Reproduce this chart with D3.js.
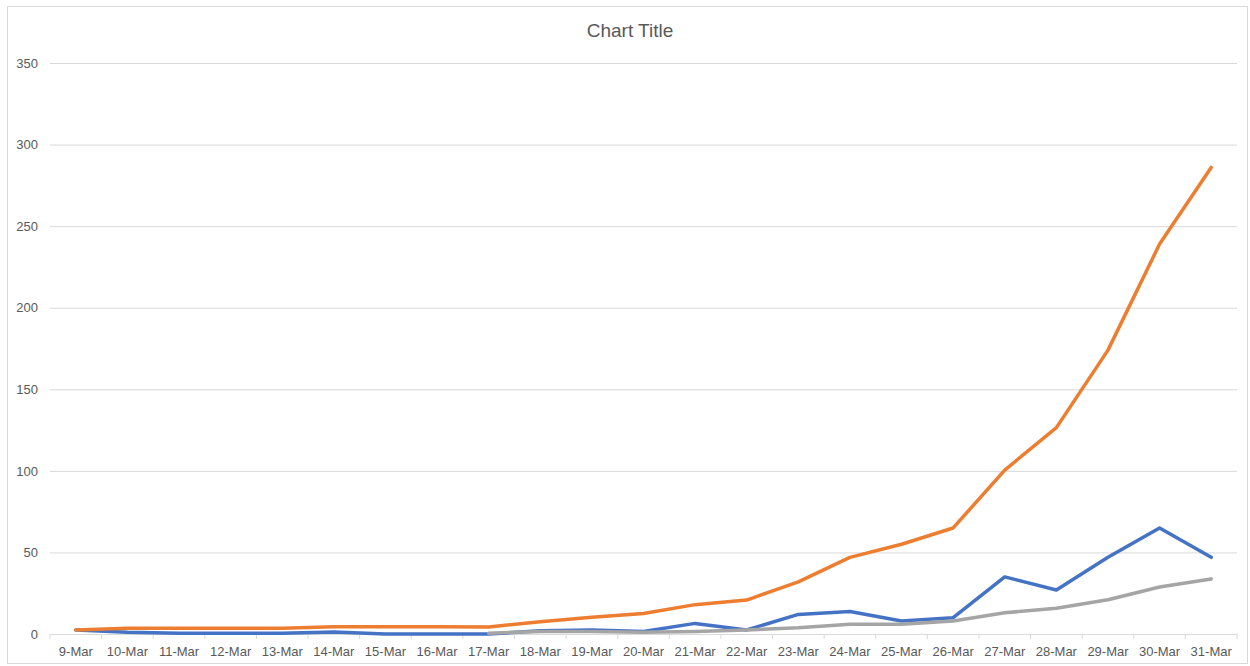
<!DOCTYPE html>
<html><head><meta charset="utf-8">
<script src="https://cdn.jsdelivr.net/npm/d3@7"></script>
<style>body{margin:0;background:#fff;} svg{display:block;}</style>
</head><body>
<script>
const categories = ["9-Mar","10-Mar","11-Mar","12-Mar","13-Mar","14-Mar","15-Mar","16-Mar","17-Mar","18-Mar","19-Mar","20-Mar","21-Mar","22-Mar","23-Mar","24-Mar","25-Mar","26-Mar","27-Mar","28-Mar","29-Mar","30-Mar","31-Mar"];
const blueValues = [2.5,1,0.5,0.5,0.5,1.2,0,0,0,2,2.5,1.5,6.5,2.5,12,13.8,8,10,35,27,47,65,47];
const orangeValues = [2.5,3.5,3.5,3.5,3.5,4.5,4.5,4.5,4.3,7.5,10.3,12.6,18,20.8,32,47,55,65,100.5,126.5,174,239,286];
const grayValues = [null,null,null,null,null,null,null,null,0.5,1.5,1.5,1,1.5,2.5,3.8,6,6,8,13,15.8,21,28.8,33.7];
const yTicks = [0,50,100,150,200,250,300,350];
const title = "Chart Title";

const W = 1250, H = 666;
const svg = d3.select("body").append("svg").attr("width", W).attr("height", H);
svg.append("rect").attr("x",7.5).attr("y",6.5).attr("width",1240).attr("height",657)
  .attr("fill","#fff").attr("stroke","#d9d9d9").attr("stroke-width",1);

const x = d3.scaleBand().domain(categories).range([50,1237]);
const y = d3.scaleLinear().domain([0,350]).range([634,63]);
const font = "'Liberation Sans', Arial, sans-serif";

svg.append("text").attr("x",630).attr("y",37).attr("text-anchor","middle")
  .attr("font-family",font).attr("font-size",19).attr("fill","#595959").text(title);

// gridlines
const yAxis = d3.axisLeft(y).tickValues(yTicks).tickSize(-(1237-50)).tickPadding(12);
const gy = svg.append("g").attr("transform","translate(50,0)").call(yAxis);
gy.select(".domain").remove();
gy.selectAll(".tick line").attr("stroke","#d9d9d9").attr("stroke-width",1);
gy.selectAll(".tick text").attr("font-family",font).attr("font-size",13).attr("fill","#595959");

// x axis
const xAxis = d3.axisBottom(x).tickSize(0).tickPadding(13);
const gx = svg.append("g").attr("transform","translate(0,634)").call(xAxis);
gx.select(".domain").attr("stroke","#d9d9d9");
gx.selectAll(".tick text").attr("font-family",font).attr("font-size",13).attr("fill","#595959");
const bounds = categories.map(c => x(c)).concat([x(categories[categories.length-1]) + x.bandwidth()]);
gx.selectAll(".bt").data(bounds).enter().append("line").attr("class","bt")
  .attr("x1",d=>d).attr("x2",d=>d).attr("y1",0).attr("y2",5).attr("stroke","#d9d9d9");

const line = d3.line().defined(d => d.v != null)
  .x(d => x(d.c) + x.bandwidth()/2).y(d => y(d.v));
const series = [
  {vals: blueValues, color: "#4472C4"},
  {vals: orangeValues, color: "#ED7D31"},
  {vals: grayValues, color: "#A5A5A5"}
];
series.forEach(s => {
  svg.append("path").datum(categories.map((c,i)=>({c, v:s.vals[i]})))
    .attr("d", line).attr("fill","none").attr("stroke", s.color)
    .attr("stroke-width",3.5).attr("stroke-linejoin","round").attr("stroke-linecap","round");
});
</script>
</body></html>
